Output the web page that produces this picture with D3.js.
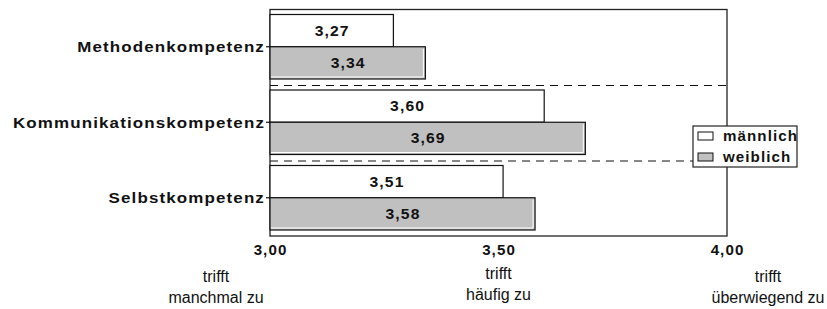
<!DOCTYPE html>
<html>
<head>
<meta charset="utf-8">
<script src="https://cdn.jsdelivr.net/npm/d3@7"></script>
<style>
  body { margin: 0; background: #fff; }
  text { font-family: Arial, "Liberation Sans", sans-serif; }
</style>
</head>
<body>
<svg id="chart"></svg>
<script>
// data
const categories = ["Methodenkompetenz", "Kommunikationskompetenz", "Selbstkompetenz"];
const genders = ["männlich", "weiblich"];
const maleValues = [3.27, 3.60, 3.51];
const femaleValues = [3.34, 3.69, 3.58];
const xTicks = [3.0, 3.5, 4.0];
const scaleLabels = [["trifft", "manchmal zu"], ["trifft", "häufig zu"], ["trifft", "überwiegend zu"]];

const W = 827, H = 309;
const frame = { left: 270, right: 727, top: 9.5, bottom: 236 };
const fillFor = { "männlich": "#ffffff", "weiblich": "#c0c0c0" };
const fmt = v => d3.format(".2f")(v).replace(".", ",");

// the original bold labels are drawn a bit wide: stretch glyphs and gaps
function widen(sel, factor) {
  sel.each(function () {
    const w = this.getComputedTextLength();
    d3.select(this).attr("textLength", w * factor).attr("lengthAdjust", "spacingAndGlyphs");
  });
}

const svg = d3.select("#chart").attr("width", W).attr("height", H);

const x = d3.scaleLinear().domain([3, 4]).range([frame.left, frame.right]);
const y = d3.scaleBand().domain(categories).range([frame.top, frame.bottom]);
const yInner = d3.scaleBand().domain(genders).range([5, y.bandwidth() - 6]);

const rows = [];
categories.forEach((c, i) => {
  rows.push({ cat: c, g: genders[0], v: maleValues[i] });
  rows.push({ cat: c, g: genders[1], v: femaleValues[i] });
});

// frame
svg.append("rect")
  .attr("x", frame.left).attr("y", frame.top)
  .attr("width", frame.right - frame.left).attr("height", frame.bottom - frame.top)
  .attr("fill", "none").attr("stroke", "#222").attr("stroke-width", 1.3);

// dashed separators between categories
svg.append("g").selectAll("line")
  .data(categories.slice(1))
  .join("line")
    .attr("x1", frame.left).attr("x2", frame.right)
    .attr("y1", d => y(d) + 0.5).attr("y2", d => y(d) + 0.5)
    .attr("stroke", "#111").attr("stroke-width", 1.2)
    .attr("stroke-dasharray", "8,6");

// bars
const bars = svg.append("g").selectAll("g")
  .data(rows)
  .join("g")
    .attr("transform", d => `translate(0,${y(d.cat) + yInner(d.g)})`);

bars.append("rect")
  .attr("x", x(3))
  .attr("y", 0)
  .attr("width", d => x(d.v) - x(3))
  .attr("height", yInner.bandwidth())
  .attr("fill", d => fillFor[d.g])
  .attr("stroke", "#111")
  .attr("stroke-width", 1.2);

// light inner edge on the grey bars
bars.filter(d => d.g === genders[1]).append("polyline")
  .attr("points", d => {
    const r = x(d.v) - 2, b = yInner.bandwidth() - 2;
    return `${x(3) + 1},${b} ${r},${b} ${r},2`;
  })
  .attr("fill", "none").attr("stroke", "#fff").attr("stroke-width", 1);

bars.append("text")
  .attr("x", d => (x(3) + x(d.v)) / 2 + 0.5)
  .attr("y", yInner.bandwidth() / 2)
  .attr("dy", "0.36em")
  .attr("text-anchor", "middle")
  .attr("font-size", 14).attr("font-weight", "bold")
  .attr("letter-spacing", 1)
  .attr("fill", "#111")
  .text(d => fmt(d.v))
  .call(widen, 1.12);

// y axis: ticks + category labels
const yAxis = svg.append("g");
yAxis.selectAll("line")
  .data(categories)
  .join("line")
    .attr("x1", frame.left - 4).attr("x2", frame.left)
    .attr("y1", d => y(d) + yInner(genders[1]))
    .attr("y2", d => y(d) + yInner(genders[1]))
    .attr("stroke", "#111").attr("stroke-width", 1.2);
yAxis.selectAll("text")
  .data(categories)
  .join("text")
    .attr("x", frame.left - 5)
    .attr("y", d => y(d) + yInner(genders[1]))
    .attr("dy", "0.36em")
    .attr("text-anchor", "end")
    .attr("font-size", 15).attr("font-weight", "bold")
    .attr("letter-spacing", 1)
    .attr("fill", "#111")
    .text(d => d)
    .call(widen, 1.13);

// x axis tick labels
const xAxis = svg.append("g")
  .attr("transform", `translate(0,${frame.bottom})`)
  .call(d3.axisBottom(x).tickValues(xTicks).tickSize(0).tickPadding(9).tickFormat(fmt));
xAxis.select(".domain").remove();
xAxis.selectAll("text")
  .attr("font-size", 14).attr("font-weight", "bold")
  .attr("font-family", "Arial, 'Liberation Sans', sans-serif")
  .attr("letter-spacing", 1)
  .attr("fill", "#111")
  .call(widen, 1.08);

// verbal scale labels under the ticks
const labelShift = [-54, 0, 41];
const labelTop = [277, 274, 277];
const scaleG = svg.append("g").selectAll("text")
  .data(scaleLabels)
  .join("text")
    .attr("text-anchor", "middle")
    .attr("font-size", 16)
    .attr("fill", "#111");
scaleG.each(function (lines, i) {
  d3.select(this).selectAll("tspan")
    .data(lines)
    .join("tspan")
      .attr("x", x(xTicks[i]) + labelShift[i])
      .attr("y", (d, j) => labelTop[i] + 5 + j * 21)
      .text(d => d);
});

// legend
const legend = svg.append("g").attr("transform", "translate(693,126)");
legend.append("rect")
  .attr("width", 104).attr("height", 41)
  .attr("fill", "#fff").attr("stroke", "#222").attr("stroke-width", 1.2);
const items = legend.selectAll("g.item")
  .data(genders)
  .join("g")
    .attr("class", "item")
    .attr("transform", (d, i) => `translate(5,${6 + i * 21})`);
items.append("rect")
  .attr("width", 15).attr("height", 8)
  .attr("fill", d => fillFor[d])
  .attr("stroke", "#111").attr("stroke-width", 1);
items.append("text")
  .attr("x", 25).attr("y", 4)
  .attr("dy", "0.36em")
  .attr("font-size", 14).attr("font-weight", "bold")
  .attr("letter-spacing", 1)
  .attr("fill", "#111")
  .text(d => d)
  .call(widen, 1.08);
</script>
</body>
</html>
